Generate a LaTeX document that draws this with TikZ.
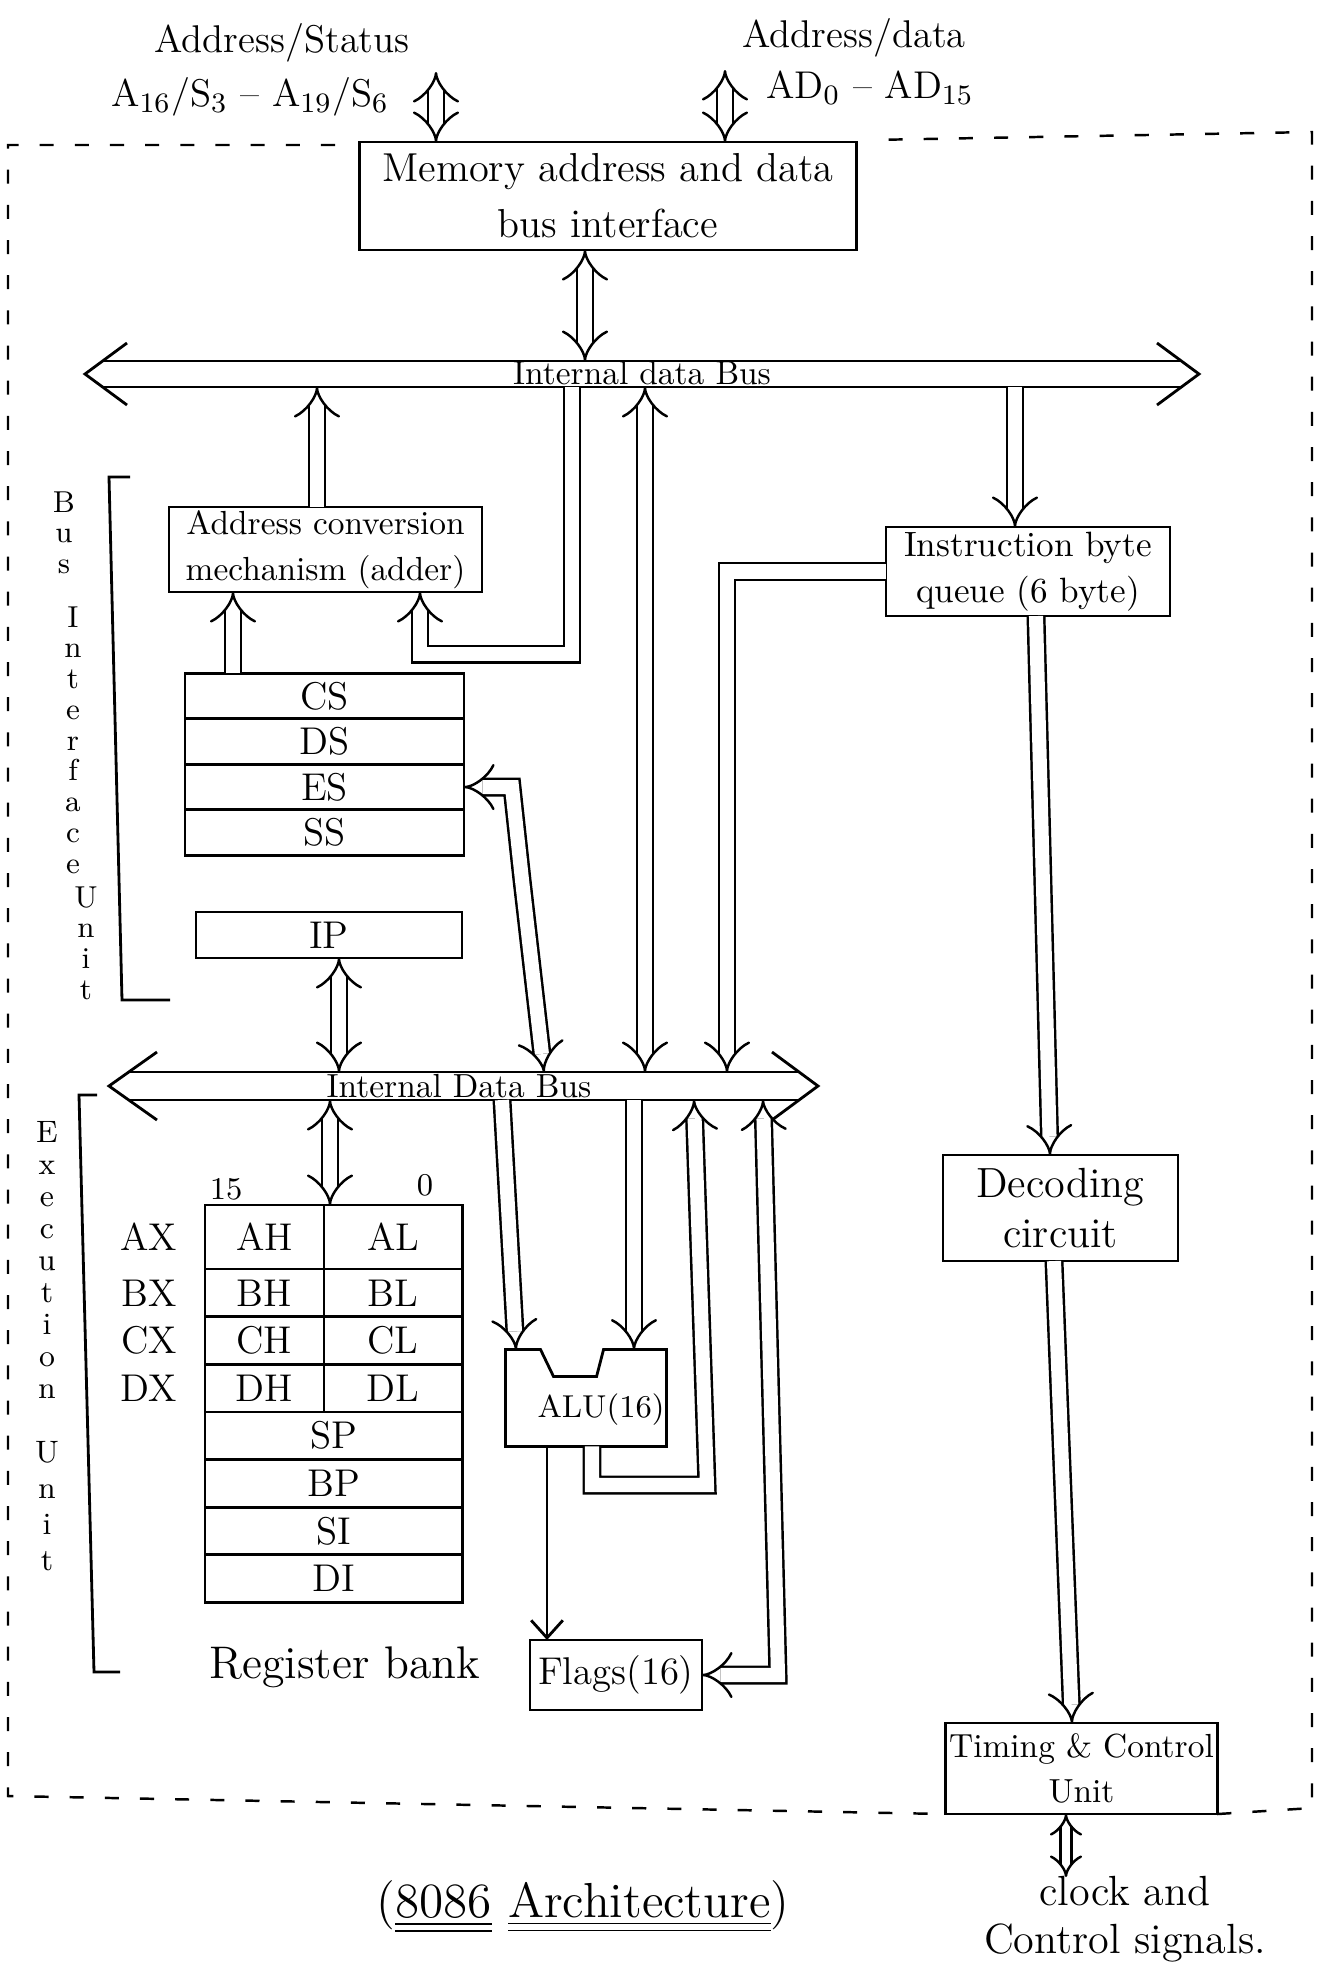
\documentclass[tikz,border=0pt]{standalone}
\usetikzlibrary{positioning,arrows.meta}
\begin{document}
\begin{tikzpicture}[x=0.01cm,y=-0.01cm,line width=0.8pt,
  font=\fontsize{11}{13}\selectfont,
  box/.style={draw,inner sep=1pt,outer sep=0pt,align=center},
  reg/.style={draw,inner sep=0pt,outer sep=0pt},
  dbl/.style={double,double distance=4pt,line width=0.7pt},
  dashframe/.style={dash pattern=on 4pt off 6pt,line width=0.7pt},
  vname/.style={align=center,inner sep=0pt,anchor=north,font=\fontsize{8.6}{8.75}\selectfont},
  buslbl/.style={inner sep=0pt,anchor=base,font=\fontsize{9.5}{11}\selectfont}]
\useasboundingbox (0,0) rectangle (1329,1968);

% Labels of the outside pins
\node (stlbl) at (282,43) {Address/Status};
\node (stpins) at (250,97) {A$_{16}$/S$_3$ -- A$_{19}$/S$_6$};
\node (adlbl) at (854,38) {Address/data};
\node (adpins) at (870,88) {AD$_0$ -- AD$_{15}$};
\coordinate (stpin) at (436,72);
\coordinate (adpin) at (725,70);
\coordinate (clkpin) at (1066,1877);

% Bus interface unit blocks
\node[box,minimum width=4.96cm,minimum height=1.08cm,font=\fontsize{11.5}{16}\selectfont] (mem) at (608,196) {Memory address and data\\bus interface};
\node[box,minimum width=3.13cm,minimum height=0.85cm,font=\fontsize{9.5}{13}\selectfont] (adder) at (325.5,549.5) {Address conversion\\mechanism (adder)};
\node[reg,minimum width=2.79cm,minimum height=0.455cm] (cs) at (324.5,696) {CS};
\foreach \nm/\txt/\up in {ds/DS/cs,es/ES/ds,ss/SS/es}
  \node[reg,minimum width=2.79cm,minimum height=0.455cm,below=0pt of \up] (\nm) {\txt};
\node[reg,minimum width=2.66cm,minimum height=0.46cm] (ip) at (329,935) {IP};
\node[box,minimum width=2.84cm,minimum height=0.89cm,font=\fontsize{10}{13}\selectfont] (queue) at (1028,571.5) {Instruction byte\\queue (6 byte)};

% Execution unit blocks
\node[box,minimum width=2.35cm,minimum height=1.06cm,font=\fontsize{12}{14}\selectfont] (dec) at (1060.5,1208) {Decoding\\circuit};
\node[box,minimum width=2.69cm,minimum height=0.91cm,font=\fontsize{9.5}{13}\selectfont] (tim) at (1081.5,1768.5) {Timing \& Control\\Unit};

% Register bank
\node[reg,minimum width=1.19cm,minimum height=0.64cm] (ah) at (264.5,1237) {AH};
\node[reg,minimum width=1.38cm,minimum height=0.64cm,right=0pt of ah] (al) {AL};
\foreach \nm/\txt/\up in {bh/BH/ah,ch/CH/bh,dh/DH/ch}
  \node[reg,minimum width=1.19cm,minimum height=0.476cm,below=0pt of \up] (\nm) {\txt};
\foreach \nm/\txt/\up in {bl/BL/al,cl/CL/bl,dl/DL/cl}
  \node[reg,minimum width=1.38cm,minimum height=0.476cm,below=0pt of \up] (\nm) {\txt};
\node[reg,minimum width=2.57cm,minimum height=0.476cm,anchor=north west] (sp) at (dh.south west) {SP};
\foreach \nm/\txt/\up in {bp/BP/sp,si/SI/bp,di/DI/si}
  \node[reg,minimum width=2.57cm,minimum height=0.476cm,below=0pt of \up] (\nm) {\txt};
\foreach \nm/\txt in {ah/AX,bh/BX,ch/CX,dh/DX}
  \node[left=0.15cm of \nm] (\nm-l) {\txt};
\node[anchor=south west,inner sep=1pt,font=\fontsize{9}{10}\selectfont] (b15) at (ah.north west) {15};
\node[above left=1pt and 0.24cm of al.north east,inner sep=1pt,font=\fontsize{9}{10}\selectfont] (b0) {0};
\node[font=\fontsize{13}{15}\selectfont] (rbank) at (345,1667) {Register bank};

% ALU with its notched top, and flags
\node[minimum width=1.58cm,minimum height=0.94cm,inner sep=0pt] (alu) at (586,1398) {};
\node[font=\fontsize{9}{11}\selectfont] (alutxt) at (601,1410) {ALU(16)};
\draw (alu.north west) -- ++(35,0) -- ++(13,27) -- ++(43,0) -- ++(7,-27) -- (alu.north east)
  -- (alu.south east) -- (alu.south west) -- cycle;
\node[box,minimum width=1.72cm,minimum height=0.70cm] (flags) at (616,1675) {Flags(16)};

% Internal data buses
\coordinate (tbT) at (0,361); \coordinate (tbB) at (0,387);
\coordinate (lbT) at (0,1072); \coordinate (lbB) at (0,1100);
\draw (127,343) -- (85,374) -- (127,405);
\draw (1157,343) -- (1199,374) -- (1157,405);
\draw (103,361) -- (1181,361);
\draw (103,387) -- (1181,387);
\node[buslbl] (tblbl) at (642,384) {Internal data Bus};
\draw (157,1052) -- (109,1086) -- (157,1120);
\draw (772,1052) -- (818,1086) -- (772,1120);
\draw (129,1072) -- (798,1072);
\draw (129,1100) -- (798,1100);
\node[buslbl] (lblbl) at (459,1097) {Internal Data Bus};

% Lanes of the connectors
\coordinate (xmem) at (585,0);
\coordinate (xadr) at (317,0);
\coordinate (xloop) at (572,0);
\coordinate (xadin) at (420,0);
\coordinate (yloop) at (0,654);
\coordinate (xseg) at (233,0);
\coordinate (xlong) at (645,0);
\coordinate (xqin) at (1015,0);
\coordinate (xqout) at (727,0);
\coordinate (esk1) at (512,0);
\coordinate (esk2) at (522,880);
\coordinate (xes) at (544,0);
\coordinate (xip) at (339,0);
\coordinate (xreg) at (330,0);
\coordinate (xaL1) at (502,0);
\coordinate (xaL2) at (516,0);
\coordinate (xaR) at (634,0);
\coordinate (xao1) at (592,0);
\coordinate (yao) at (0,1485);
\coordinate (xao2) at (707,0);
\coordinate (xao3) at (694,0);
\coordinate (xaf) at (547,0);
\coordinate (xfl1) at (778,0);
\coordinate (xfl2) at (763,0);
\coordinate (xq1) at (1036,0);
\coordinate (xq2) at (1050,0);
\coordinate (xd1) at (1054,0);
\coordinate (xd2) at (1072,0);
\coordinate (xclk) at (1066,0);

% Connectors
\draw[dbl,{Implies}-{Implies}] (stpin) -- (stpin |- mem.north);
\draw[dbl,{Implies}-{Implies}] (adpin) -- (adpin |- mem.north);
\draw[dbl,{Implies}-{Implies}] (xmem |- mem.south) -- (xmem |- tbT);
\draw[dbl,-{Implies}] (xadr |- adder.north) -- (xadr |- tbB);
\draw[dbl,-{Implies}] (xloop |- tbB) |- (xadin |- yloop) -- (xadin |- adder.south);
\draw[dbl,-{Implies}] (xseg |- cs.north) -- (xseg |- adder.south);
\draw[dbl,{Implies}-{Implies}] (xlong |- tbB) -- (xlong |- lbT);
\draw[dbl,-{Implies}] (xqin |- tbB) -- (xqin |- queue.north);
\draw[dbl,-{Implies}] (queue.west) -| (xqout |- lbT);
\draw[dbl,{Implies}-{Implies}] (es.east) -- (es.east -| esk1) -- (esk2) -- (xes |- lbT);
\draw[dbl,{Implies}-{Implies}] (xip |- ip.south) -- (xip |- lbT);
\draw[dbl,{Implies}-{Implies}] (xreg |- lbB) -- (xreg |- ah.north);
\draw[dbl,-{Implies}] (xaL1 |- lbB) -- (xaL2 |- alu.north);
\draw[dbl,-{Implies}] (xaR |- lbB) -- (xaR |- alu.north);
\draw[dbl,-{Implies}] (xao1 |- alu.south) |- (xao2 |- yao) -- (xao3 |- lbB);
\draw[-{Straight Barb[length=5pt,width=9pt]}] (xaf |- alu.south) -- (xaf |- flags.north);
\draw[dbl,{Implies}-{Implies}] (flags.east) -- (flags.east -| xfl1) -- (xfl2 |- lbB);
\draw[dbl,-{Implies}] (xq1 |- queue.south) -- (xq2 |- dec.north);
\draw[dbl,-{Implies}] (xd1 |- dec.south) -- (xd2 |- tim.north);
\draw[dbl,double distance=2.5pt,{Implies}-{Implies}] (xclk |- tim.south) -- (clkpin);

% Dashed chip outline and unit brackets
\draw[dashframe] (335,145) -- (8,145) -- (8,1796) -- (tim.south west);
\draw[dashframe] (tim.south east) -- (1312,1808) -- (1312,132) -- (869,140);
\draw (130,477) -- (109,477) -- (122,1000) -- (170,1000);
\draw (97,1095) -- (79,1095) -- (94,1672) -- (120,1672);

% Vertical unit names
\node[vname] (biu1) at (64,490) {B\\u\\s};
\node[vname] (biu2) at (73,605) {I\\n\\t\\e\\r\\f\\a\\c\\e};
\node[vname] (biu3) at (86,885) {U\\n\\i\\t};
\node[vname,font=\fontsize{8.8}{9.1}\selectfont] (eu1) at (47,1120) {E\\x\\e\\c\\u\\t\\i\\o\\n};
\node[vname,font=\fontsize{8.8}{10.2}\selectfont] (eu2) at (47,1440) {U\\n\\i\\t};

% Caption and clock signals
\node[font=\fontsize{14}{16}\selectfont] (title) at (583,1907) {(\underline{\underline{8086}} \underline{\underline{Architecture}})};
\node[align=center,font=\fontsize{12}{13.5}\selectfont] (clk) at (1125,1919) {clock and\\Control signals.};
\end{tikzpicture}
\end{document}
